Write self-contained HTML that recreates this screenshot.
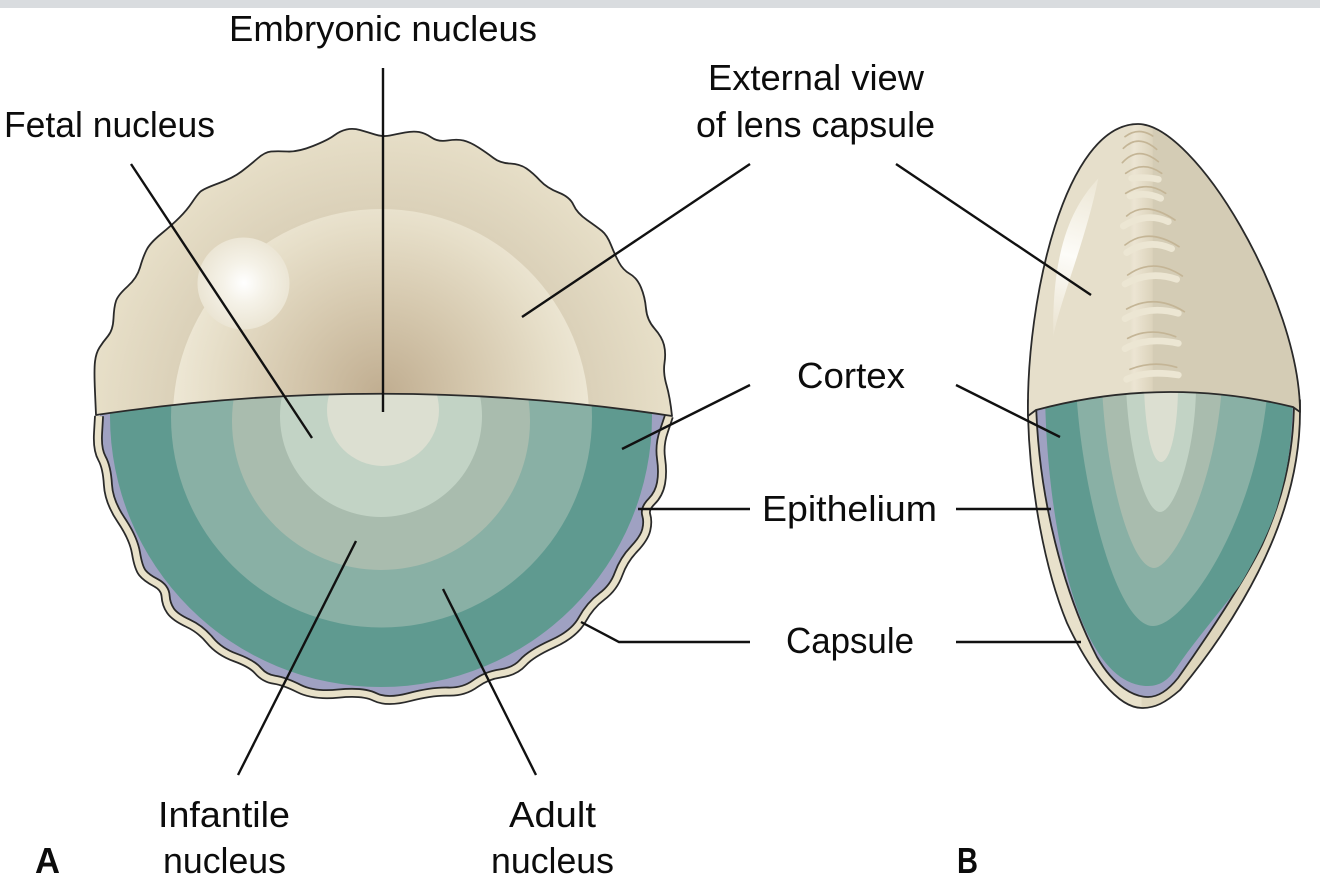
<!DOCTYPE html>
<html>
<head>
<meta charset="utf-8">
<style>
html,body{margin:0;padding:0;background:#fff;width:1320px;height:888px;overflow:hidden}
svg{display:block}
text{font-family:"Liberation Sans",sans-serif;font-size:36px;fill:#0c0c0c}
.b{font-weight:bold}
.ld{fill:none;stroke:#111;stroke-width:2.4}
.ol{stroke:#2a2a2a;stroke-width:1.8;stroke-linejoin:round}
.su{fill:none;stroke:#c4b596;stroke-width:5;stroke-linecap:round}
.hi{fill:none;stroke:#ece6d3;stroke-width:20;stroke-linecap:round;stroke-linejoin:round}
</style>
</head>
<body>
<svg width="1320" height="888" viewBox="0 0 1320 888" xmlns="http://www.w3.org/2000/svg">
<defs>
<path id="capA" d="M95 416 L94 433.5 Q93 450 98 459 Q103 468 104 485.5 Q105 503 117.5 521.5 Q130 540 132.5 555 Q135 570 139 575 Q143 580 152.5 585 Q162 590 162.5 598.5 Q163 607 167.5 613.5 Q172 620 185 626 Q198 632 207.5 643.5 Q217 655 233.5 661 Q250 667 256.5 674.5 Q263 682 273 683.5 Q283 685 298 692.5 Q313 700 338 697.5 Q363 695 375 701 Q387 707 410 701 Q433 695 449 695.5 Q465 696 476.5 687.5 Q488 679 502.5 677 Q517 675 525 666 Q533 657 555 647 Q577 637 585 622.5 Q593 608 605 599 Q617 590 622 576 Q627 562 637.5 551 Q648 540 650 531.5 Q652 523 650 516.5 Q648 510 655.5 502.5 Q663 495 665 484 Q667 473 665 459 Q663 445 668 431 L673 416"/>
<radialGradient id="outerG" gradientUnits="userSpaceOnUse" cx="382" cy="417" r="290">
<stop offset="0" stop-color="#cfc1a6"/>
<stop offset="0.72" stop-color="#dbd1b9"/>
<stop offset="1" stop-color="#e7dfc8"/>
</radialGradient>
<radialGradient id="domeG" gradientUnits="userSpaceOnUse" cx="382" cy="395" r="212">
<stop offset="0" stop-color="#c0ad90"/>
<stop offset="0.45" stop-color="#d6c9af"/>
<stop offset="0.8" stop-color="#e6dec8"/>
<stop offset="1" stop-color="#eee8d6"/>
</radialGradient>
<radialGradient id="glow" gradientUnits="userSpaceOnUse" cx="244" cy="283" r="46">
<stop offset="0" stop-color="#ffffff"/>
<stop offset="0.45" stop-color="#f5f2e8"/>
<stop offset="1" stop-color="#ebe5d4"/>
</radialGradient>
<linearGradient id="sideTop" gradientUnits="userSpaceOnUse" x1="1028" y1="0" x2="1300" y2="0">
<stop offset="0" stop-color="#e6dfcb"/>
<stop offset="0.375" stop-color="#e6dfcb"/>
<stop offset="0.39" stop-color="#ece5d3"/>
<stop offset="0.457" stop-color="#dcd3bc"/>
<stop offset="0.46" stop-color="#d4ccb5"/>
<stop offset="1" stop-color="#d4ccb5"/>
</linearGradient>
<linearGradient id="sideLow" gradientUnits="userSpaceOnUse" x1="1028" y1="0" x2="1300" y2="0">
<stop offset="0" stop-color="#e8e1cb"/>
<stop offset="0.415" stop-color="#e8e1cb"/>
<stop offset="0.42" stop-color="#ded6bd"/>
<stop offset="1" stop-color="#ded6bd"/>
</linearGradient>
<linearGradient id="glare" gradientUnits="userSpaceOnUse" x1="265" y1="205" x2="130" y2="680">
<stop offset="0" stop-color="#ece6d4"/>
<stop offset="0.5" stop-color="#fdfcf8"/>
<stop offset="1" stop-color="#e9e2cf"/>
</linearGradient>
<clipPath id="innerClip">
<use href="#capA" transform="translate(383 417) scale(.986) translate(-383 -417)"/>
<rect x="101" y="380" width="563" height="40"/>
</clipPath>
<clipPath id="divClip">
<path d="M90 100 H680 V416 Q384 372 90 416 Z"/>
</clipPath>
</defs>

<rect x="0" y="0" width="1320" height="8" fill="#d9dcdf"/>

<!-- Figure A lower half -->
<rect x="100" y="400" width="565" height="20" fill="#9fa1c2"/>
<g transform="translate(383 417) scale(.986) translate(-383 -417)">
<use href="#capA" fill="#9fa1c2"/>
</g>
<g clip-path="url(#innerClip)">
<circle cx="381" cy="416" r="271" fill="#5f9a90"/>
</g>
<circle cx="381.5" cy="417" r="210.5" fill="#89b0a5"/>
<circle cx="381" cy="421" r="149" fill="#a9bcae"/>
<circle cx="381" cy="416" r="101" fill="#c2d3c5"/>
<circle cx="383" cy="410" r="56" fill="#dcdfd1"/>
<g transform="translate(383 417) scale(.986) translate(-383 -417)" fill="none" stroke-linejoin="round">
<use href="#capA" stroke="#2a2a2a" stroke-width="10"/>
<use href="#capA" stroke="#e8e1c9" stroke-width="6.4"/>
</g>

<!-- Figure A upper half -->
<path fill="url(#outerG)" d="M96 415 L95 392 Q94 370 95 361.5 Q96 353 99.5 347.5 Q103 342 108 336 Q113 330 113.5 318.5 Q114 307 116 301 Q118 295 127.5 286.5 Q137 278 140 267.5 Q143 257 146.5 250 Q150 243 161 234 Q172 225 179.5 217.5 Q187 210 192 202.5 Q197 195 200 192 Q203 189 218 183.5 Q233 178 241.5 171.5 Q250 165 257.5 158.5 Q265 152 271 151.5 Q277 151 287.5 151.5 Q298 152 313 146 Q328 140 334 135.5 Q340 131 346.5 129.5 Q353 128 360 130 Q367 132 375 134.5 Q383 137 390 135.5 Q397 134 405 132.5 Q413 131 419 132 Q425 133 431.5 137.5 Q438 142 447.5 140.5 Q457 139 463.5 140.5 Q470 142 478.5 147.5 Q487 153 493.5 158 Q500 163 510 163.5 Q520 164 526.5 168.5 Q533 173 540 180.5 Q547 188 558.5 192.5 Q570 197 573.5 205 Q577 213 587 220 Q597 227 602 231 Q607 235 611 245 Q615 255 619 262.5 Q623 270 630 274 Q637 278 641 287.5 Q645 297 646 308.5 Q647 320 654.5 328.5 Q662 337 664 345 Q666 353 664.5 363 Q663 373 666.5 385 Q670 397 672 416 Q384 372 96 415 Z"/>
<g clip-path="url(#divClip)">
<circle cx="381" cy="417" r="208" fill="url(#domeG)"/>
<circle cx="243.5" cy="283.5" r="46" fill="url(#glow)"/>
</g>
<path class="ol" fill="none" d="M96 415 L95 392 Q94 370 95 361.5 Q96 353 99.5 347.5 Q103 342 108 336 Q113 330 113.5 318.5 Q114 307 116 301 Q118 295 127.5 286.5 Q137 278 140 267.5 Q143 257 146.5 250 Q150 243 161 234 Q172 225 179.5 217.5 Q187 210 192 202.5 Q197 195 200 192 Q203 189 218 183.5 Q233 178 241.5 171.5 Q250 165 257.5 158.5 Q265 152 271 151.5 Q277 151 287.5 151.5 Q298 152 313 146 Q328 140 334 135.5 Q340 131 346.5 129.5 Q353 128 360 130 Q367 132 375 134.5 Q383 137 390 135.5 Q397 134 405 132.5 Q413 131 419 132 Q425 133 431.5 137.5 Q438 142 447.5 140.5 Q457 139 463.5 140.5 Q470 142 478.5 147.5 Q487 153 493.5 158 Q500 163 510 163.5 Q520 164 526.5 168.5 Q533 173 540 180.5 Q547 188 558.5 192.5 Q570 197 573.5 205 Q577 213 587 220 Q597 227 602 231 Q607 235 611 245 Q615 255 619 262.5 Q623 270 630 274 Q637 278 641 287.5 Q645 297 646 308.5 Q647 320 654.5 328.5 Q662 337 664 345 Q666 353 664.5 363 Q663 373 666.5 385 Q670 397 672 416 Q384 372 96 415 Z"/>

<!-- Figure B lower -->
<path class="ol" fill="url(#sideLow)" d="M1028 416 L1028 400 L1300 400 L1300 412 C1300 480 1275 545 1243 600 C1220 640 1195 672 1180 690 C1165 703 1155 708 1142 708 C1118 708 1090 672 1067 623 C1045 570 1030 490 1028 416 Z"/>
<path class="ol" fill="#9fa1c2" d="M1036 400 C1038 500 1065 595 1097 657 C1115 688 1135 697 1148 697 C1160 697 1170 688 1178 678 C1205 640 1245 580 1262 545 C1280 505 1294 460 1294 400"/>
<path fill="#5f9a90" d="M1045 385 C1045 500 1072 686 1148 686 C1160 686 1168 680 1175 670 C1195 640 1220 612 1240 585 C1255 560 1270 530 1277 507 C1288 470 1293 440 1293 385 Z"/>
<path fill="#89b0a5" d="M1076 385 C1080 480 1115 626 1153 626 C1185 626 1258 520 1268 385 Z"/>
<path fill="#a9bcae" d="M1102 385 C1105 470 1130 568 1154 568 C1172 568 1215 490 1222 385 Z"/>
<path fill="#c2d3c5" d="M1126 385 C1128 450 1145 512 1160 512 C1175 512 1196 450 1196 385 Z"/>
<path fill="#dcdfd1" d="M1144 385 C1145 430 1152 462 1161 462 C1170 462 1178 430 1178 385 Z"/>

<!-- Figure B upper -->
<path class="ol" fill="url(#sideTop)" d="M1028 416 C1026 300 1065 124 1138 124 C1195 124 1300 300 1300 412 L1293 407 Q1165 375.5 1036 410 Z"/>

<g transform="translate(1010 110) scale(0.33333)">
<path fill="url(#glare)" d="M265 205 C185 290 125 420 130 680 C150 570 225 400 265 205 Z"/>
<path class="hi" d="M365 205 Q410 200 445 208"/>
<path class="hi" d="M360 258 Q410 245 452 265"/>
<path class="hi" d="M340 348 Q410 305 475 335"/>
<path class="hi" d="M350 428 Q415 385 485 416"/>
<path class="hi" d="M345 522 Q420 480 500 508"/>
<path class="hi" d="M345 626 Q420 585 505 610"/>
<path class="hi" d="M345 716 Q410 680 505 700"/>
<path class="hi" d="M350 808 Q410 780 505 795"/>
<path class="su" d="M345 80 Q385 50 428 78"/>
<path class="su" d="M340 115 Q385 70 440 118"/>
<path class="su" d="M337 158 Q385 105 445 155"/>
<path class="su" d="M347 190 Q400 150 455 190"/>
<path class="su" d="M347 250 Q410 210 467 250"/>
<path class="su" d="M350 318 Q405 270 495 330"/>
<path class="su" d="M345 405 Q415 350 507 410"/>
<path class="su" d="M353 495 Q430 440 517 498"/>
<path class="su" d="M350 597 Q435 550 523 605"/>
<path class="su" d="M353 685 Q420 650 497 680"/>
<path class="su" d="M360 778 Q430 750 500 772"/>
</g>

<!-- Leader lines -->
<path class="ld" d="M383 68 V412"/>
<path class="ld" d="M131 164 L312 438"/>
<path class="ld" d="M750 164 L522 317"/>
<path class="ld" d="M750 385 L622 449"/>
<path class="ld" d="M750 509 H638"/>
<path class="ld" d="M750 642 H619 L581 622"/>
<path class="ld" d="M238 775 L356 541"/>
<path class="ld" d="M536 775 L443 589"/>
<path class="ld" d="M896 164 L1091 295"/>
<path class="ld" d="M956 385 L1060 437"/>
<path class="ld" d="M956 509 H1051"/>
<path class="ld" d="M956 642 H1081"/>

<!-- Labels -->
<text x="229" y="41" textLength="308" lengthAdjust="spacingAndGlyphs">Embryonic nucleus</text>
<text x="4" y="137" textLength="211" lengthAdjust="spacingAndGlyphs">Fetal nucleus</text>
<text x="708" y="90" textLength="216" lengthAdjust="spacingAndGlyphs">External view</text>
<text x="696" y="137" textLength="239" lengthAdjust="spacingAndGlyphs">of lens capsule</text>
<text x="797" y="388" textLength="108" lengthAdjust="spacingAndGlyphs">Cortex</text>
<text x="762" y="521" textLength="175" lengthAdjust="spacingAndGlyphs">Epithelium</text>
<text x="786" y="653" textLength="128" lengthAdjust="spacingAndGlyphs">Capsule</text>
<text x="158" y="827" textLength="132" lengthAdjust="spacingAndGlyphs">Infantile</text>
<text x="163" y="873" textLength="123" lengthAdjust="spacingAndGlyphs">nucleus</text>
<text x="509" y="827" textLength="87" lengthAdjust="spacingAndGlyphs">Adult</text>
<text x="491" y="873" textLength="123" lengthAdjust="spacingAndGlyphs">nucleus</text>
<text class="b" x="35" y="873" textLength="25" lengthAdjust="spacingAndGlyphs">A</text>
<text class="b" x="957" y="873" textLength="21" lengthAdjust="spacingAndGlyphs">B</text>
</svg>
</body>
</html>
